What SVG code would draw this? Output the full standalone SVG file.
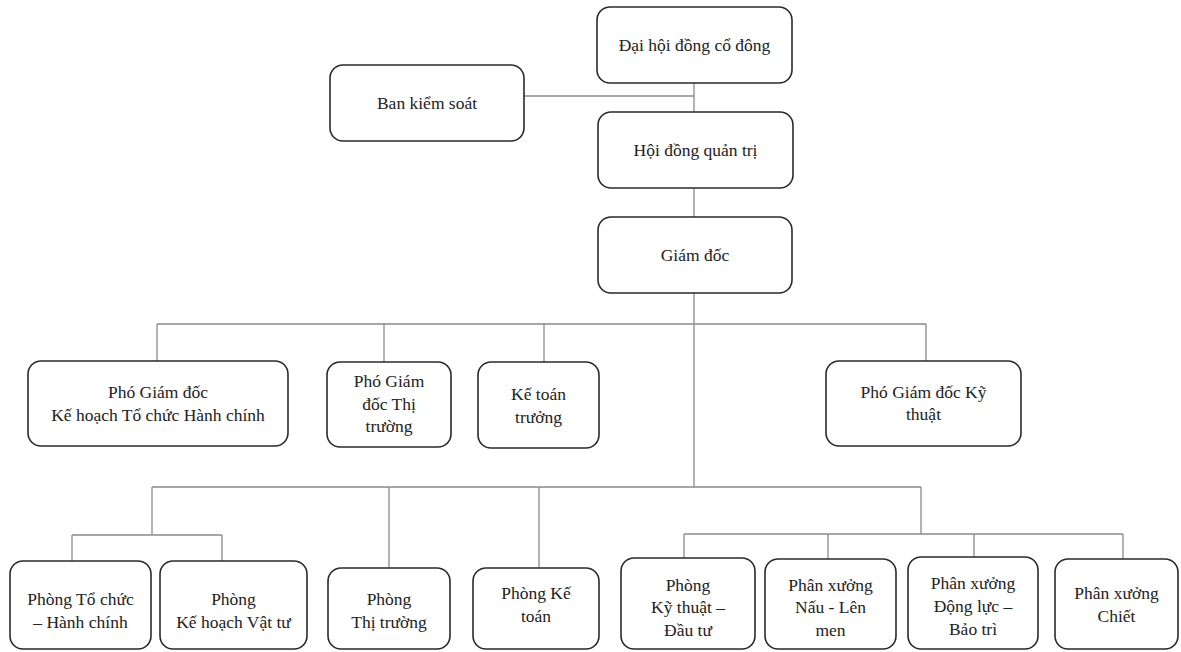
<svg xmlns="http://www.w3.org/2000/svg" width="1181" height="652" viewBox="0 0 1181 652">
<style>
.box{fill:#fff;stroke:#2a2a2a;stroke-width:1.6}
.t{font-family:"Liberation Serif","Times New Roman",serif;font-size:17.5px;fill:#222;text-anchor:middle}
.c{fill:none;stroke:#8a8a8a;stroke-width:1.3}
</style>
<rect width="1181" height="652" fill="#fff"/>
<g id="connectors" class="c">
<path d="M524 96H694"/>
<path d="M694 83V112"/>
<path d="M694 188V217"/>
<path d="M694 293V487"/>
<path d="M157 324H926"/>
<path d="M157 324V361"/>
<path d="M384 324V362"/>
<path d="M544 324V362"/>
<path d="M926 324V361"/>
<path d="M152 487H921"/>
<path d="M152 487V535"/>
<path d="M72 535H222"/>
<path d="M72 535V561"/>
<path d="M222 535V561"/>
<path d="M389 487V568"/>
<path d="M539 487V568"/>
<path d="M921 487V534"/>
<path d="M684 534H1123"/>
<path d="M684 534V558"/>
<path d="M828 534V559"/>
<path d="M974 534V557"/>
<path d="M1123 534V559"/>
</g>
<g id="dhdcd"><rect class="box" x="597" y="7" width="195" height="76" rx="13"/><text class="t" x="694.5" y="51">Đại hội đồng cổ đông</text></g>
<g id="bks"><rect class="box" x="330" y="65" width="194" height="76" rx="13"/><text class="t" x="427" y="109">Ban kiểm soát</text></g>
<g id="hdqt"><rect class="box" x="598" y="112" width="195" height="76" rx="13"/><text class="t" x="695.5" y="156">Hội đồng quản trị</text></g>
<g id="gd"><rect class="box" x="598" y="217" width="194" height="76" rx="13"/><text class="t" x="695" y="261">Giám đốc</text></g>
<g id="pgd-kh"><rect class="box" x="28" y="361" width="260" height="85" rx="13"/><text class="t" x="158" y="398">Phó Giám đốc</text><text class="t" x="158" y="421">Kế hoạch Tổ chức Hành chính</text></g>
<g id="pgd-tt"><rect class="box" x="327" y="362" width="124" height="85" rx="13"/><text class="t" x="389" y="387">Phó Giám</text><text class="t" x="389" y="410">đốc Thị</text><text class="t" x="389" y="432">trường</text></g>
<g id="ktt"><rect class="box" x="478" y="362" width="121" height="86" rx="13"/><text class="t" x="538.5" y="400">Kế toán</text><text class="t" x="538.5" y="423">trưởng</text></g>
<g id="pgd-kt"><rect class="box" x="826" y="361" width="195" height="85" rx="13"/><text class="t" x="923.5" y="398">Phó Giám đốc Kỹ</text><text class="t" x="923.5" y="420">thuật</text></g>
<g id="p-tchc"><rect class="box" x="10" y="561" width="141" height="88" rx="13"/><text class="t" x="80.5" y="605">Phòng Tổ chức</text><text class="t" x="80.5" y="628">– Hành chính</text></g>
<g id="p-khvt"><rect class="box" x="160" y="561" width="147" height="88" rx="13"/><text class="t" x="233.5" y="605">Phòng</text><text class="t" x="233.5" y="628">Kế hoạch Vật tư</text></g>
<g id="p-tt"><rect class="box" x="328" y="568" width="122" height="81" rx="13"/><text class="t" x="389" y="605">Phòng</text><text class="t" x="389" y="628">Thị trường</text></g>
<g id="p-kt"><rect class="box" x="473" y="568" width="126" height="81" rx="13"/><text class="t" x="536" y="599">Phòng Kế</text><text class="t" x="536" y="622">toán</text></g>
<g id="p-ktdt"><rect class="box" x="621" y="558" width="134" height="91" rx="13"/><text class="t" x="688" y="591">Phòng</text><text class="t" x="688" y="613">Kỹ thuật –</text><text class="t" x="688" y="636">Đầu tư</text></g>
<g id="px-nau"><rect class="box" x="765" y="559" width="131" height="90" rx="13"/><text class="t" x="830.5" y="591">Phân xưởng</text><text class="t" x="830.5" y="613">Nấu - Lên</text><text class="t" x="830.5" y="636">men</text></g>
<g id="px-dl"><rect class="box" x="908" y="557" width="130" height="92" rx="13"/><text class="t" x="973" y="589">Phân xưởng</text><text class="t" x="973" y="612">Động lực –</text><text class="t" x="973" y="635">Bảo trì</text></g>
<g id="px-chiet"><rect class="box" x="1055" y="559" width="123" height="90" rx="13"/><text class="t" x="1116.5" y="599">Phân xưởng</text><text class="t" x="1116.5" y="622">Chiết</text></g>
</svg>
